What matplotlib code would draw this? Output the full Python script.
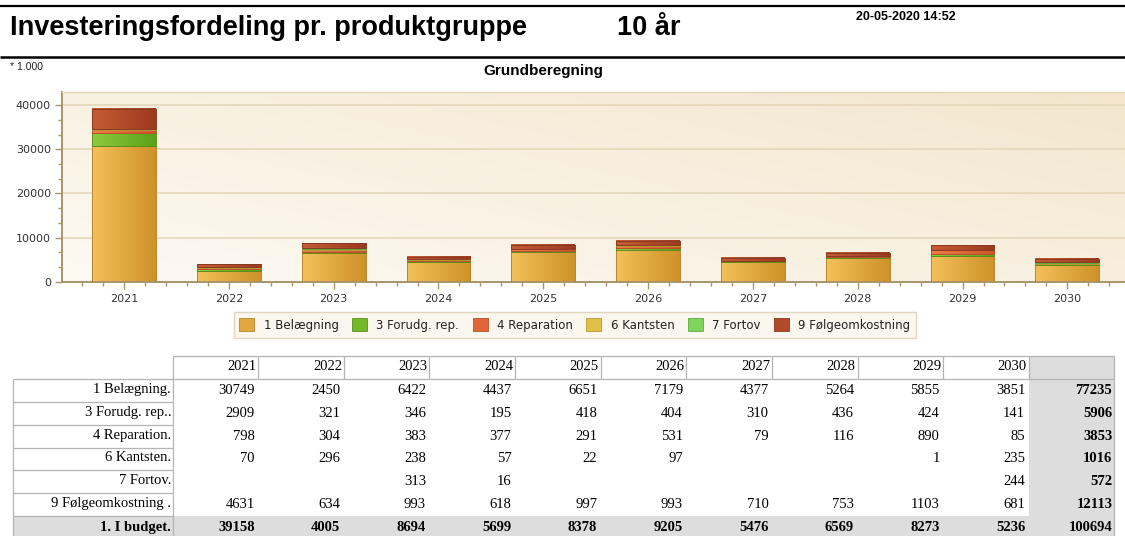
import numpy as np
import matplotlib
matplotlib.use('Agg')
import matplotlib.pyplot as plt
from matplotlib import font_manager
from matplotlib.colors import LinearSegmentedColormap
from matplotlib.patches import Patch, Rectangle
from matplotlib.ticker import MultipleLocator

# ---------------- data ----------------
years = [2021, 2022, 2023, 2024, 2025, 2026, 2027, 2028, 2029, 2030]
series_names = ["1 Belægning", "3 Forudg. rep.", "4 Reparation", "6 Kantsten", "7 Fortov", "9 Følgeomkostning"]
row_labels = ["1 Belægning.", "3 Forudg. rep..", "4 Reparation.", "6 Kantsten.", "7 Fortov.", "9 Følgeomkostning ."]
belaegning = [30749, 2450, 6422, 4437, 6651, 7179, 4377, 5264, 5855, 3851]
forudg_rep = [2909, 321, 346, 195, 418, 404, 310, 436, 424, 141]
reparation = [798, 304, 383, 377, 291, 531, 79, 116, 890, 85]
kantsten = [70, 296, 238, 57, 22, 97, None, None, 1, 235]
fortov = [None, None, 313, 16, None, None, None, None, None, 244]
foelgeomk = [4631, 634, 993, 618, 997, 993, 710, 753, 1103, 681]
row_totals = [77235, 5906, 3853, 1016, 572, 12113]
total_label = "1. I budget."
budget_totals = [39158, 4005, 8694, 5699, 8378, 9205, 5476, 6569, 8273, 5236]
grand_total = 100694
y_ticks = [0, 10000, 20000, 30000, 40000]

title = "Investeringsfordeling pr. produktgruppe"
period = "10 år"
timestamp = "20-05-2020 14:52"
unit_note = "* 1.000"
chart_title = "Grundberegning"

series = [belaegning, forudg_rep, reparation, kantsten, fortov, foelgeomk]
# (light, dark, edge)
series_colors = [("#F3C05A", "#CE9228", "#B8862E"),
                 ("#8DCB3E", "#5AA118", "#5C8E1E"),
                 ("#EF7C48", "#D2532A", "#B8502C"),
                 ("#F1D264", "#D3AD30", "#B89A30"),
                 ("#94E273", "#68C845", "#5EAA40"),
                 ("#C65C36", "#9C3A1F", "#8A3A20")]
legend_colors = ["#E0A83E", "#74B82A", "#E06638", "#E2C048", "#7ED55C", "#B04A2A"]

W, H = 1125, 536
fig = plt.figure(figsize=(W / 100, H / 100), dpi=100)
fig.patch.set_facecolor("white")

names = {f.name for f in font_manager.fontManager.ttflist}
sans = "Liberation Sans" if "Liberation Sans" in names else "DejaVu Sans"
serif = "Liberation Serif" if "Liberation Serif" in names else "DejaVu Serif"

# ---------------- overlay for header and table (pixel coords) ----------------
ov = fig.add_axes([0, 0, 1, 1])
ov.set_xlim(0, W)
ov.set_ylim(H, 0)
ov.axis("off")
ov.patch.set_alpha(0)

ov.plot([0, W], [5.5, 5.5], color="black", lw=1.6, solid_capstyle="butt")
ov.plot([0, W], [57, 57], color="black", lw=1.8, solid_capstyle="butt")
ov.text(10, 35, title, fontsize=19.5, fontweight="bold", family=sans, va="baseline", ha="left")
ov.text(617, 35, period, fontsize=19.5, fontweight="bold", family=sans, va="baseline", ha="left")
ov.text(856, 20.5, timestamp, fontsize=9, fontweight="bold", family=sans, va="baseline", ha="left")
ov.text(10, 67, unit_note, fontsize=7.5, family=sans, va="center", ha="left", color="#222222")
ov.text(543, 71, chart_title, fontsize=11, fontweight="bold", family=sans, va="center", ha="center")

# table geometry
lab_l, lab_r = 12.7, 172.7
col_w = 85.6
head_top, head_bot = 356.0, 379.3
row_h = 22.75
ncols = len(years)
tot_l = lab_r + ncols * col_w
tot_r = tot_l + col_w
nrows = len(row_labels) + 1
tab_bot = head_bot + nrows * row_h
grey = "#DDDDDD"
line_c = "#B4B4B4"

ov.add_patch(Rectangle((tot_l, head_top), col_w, tab_bot - head_top, facecolor=grey, edgecolor="none", zorder=1))
last_top = head_bot + (nrows - 1) * row_h
ov.add_patch(Rectangle((lab_l, last_top), tot_r - lab_l, tab_bot - last_top, facecolor=grey, edgecolor="none", zorder=1))

lk = dict(color=line_c, lw=0.9, zorder=2, solid_capstyle="butt")
ov.plot([lab_r, tot_r], [head_top, head_top], **lk)
ov.plot([lab_l, tot_r], [head_bot, head_bot], **lk)
ov.plot([lab_r, lab_r], [head_top, tab_bot], **lk)
ov.plot([lab_l, lab_l], [head_bot, tab_bot], **lk)
ov.plot([tot_r, tot_r], [head_top, tab_bot], **lk)
for j in range(ncols):
    xr = lab_r + (j + 1) * col_w
    ov.plot([xr, xr], [head_top, head_bot], **lk)
for i in range(1, nrows):
    yy = head_bot + i * row_h
    ov.plot([lab_l, lab_r], [yy, yy], **lk)

fs_t = 10.5
for j, yr in enumerate(years):
    xr = lab_r + (j + 1) * col_w - 2
    ov.text(xr, (head_top + head_bot) / 2 - 1, str(yr), ha="right", va="center", fontsize=fs_t, family=serif, zorder=3)

for i, (lab, vals) in enumerate(zip(row_labels, series)):
    yc = head_bot + (i + 0.5) * row_h
    ov.text(lab_r - 1.5, yc - 1, lab, ha="right", va="center", fontsize=fs_t, family=serif, zorder=3)
    for j, v in enumerate(vals):
        if v is not None:
            xr = lab_r + (j + 1) * col_w - 3.5
            ov.text(xr, yc, str(v), ha="right", va="center", fontsize=fs_t, family=serif, zorder=3)
    ov.text(tot_r - 2, yc, str(row_totals[i]), ha="right", va="center", fontsize=fs_t, family=serif,
            fontweight="bold", zorder=3)

yc = head_bot + (nrows - 0.5) * row_h
ov.text(lab_r - 1.5, yc, total_label, ha="right", va="center", fontsize=fs_t, family=serif, fontweight="bold", zorder=3)
for j, v in enumerate(budget_totals):
    xr = lab_r + (j + 1) * col_w - 3.5
    ov.text(xr, yc, str(v), ha="right", va="center", fontsize=fs_t, family=serif, fontweight="bold", zorder=3)
ov.text(tot_r - 2, yc, str(grand_total), ha="right", va="center", fontsize=fs_t, family=serif, fontweight="bold", zorder=3)

# ---------------- chart ----------------
ax_l, ax_r = 62, 1125
ax_top, ax_bot = 91.7, 281.7
ax = fig.add_axes([ax_l / W, (H - ax_bot) / H, (ax_r - ax_l) / W, (ax_bot - ax_top) / H])
x = np.arange(len(years))
xlim = (-0.592, 9.55)
ylim = (0, 43080)

# background gradient
gx, gy = np.meshgrid(np.linspace(0, 1, 200), np.linspace(0, 1, 100))
bg = 0.55 * gx + 0.45 * gy
bg_cmap = LinearSegmentedColormap.from_list("bg", ["#FDFAF4", "#F3E6CD"])
ax.imshow(bg, cmap=bg_cmap, extent=[xlim[0], xlim[1], ylim[0], ylim[1]], origin="lower",
          aspect="auto", zorder=0, interpolation="bilinear")

for yv in y_ticks[1:]:
    ax.axhline(yv, color="#E6D9BC", lw=1.3, zorder=1)

bottom = np.zeros(len(years))
grad = np.linspace(0, 1, 64).reshape(1, -1)
for vals, (light, dark, edge) in zip(series, series_colors):
    v = np.array([0 if a is None else a for a in vals], dtype=float)
    bars = ax.bar(x, v, width=0.608, bottom=bottom, facecolor="none", edgecolor=edge, lw=0.7, zorder=3)
    cm = LinearSegmentedColormap.from_list("g", [light, dark])
    for p in bars:
        if p.get_height() > 0:
            ax.imshow(grad, cmap=cm, extent=[p.get_x(), p.get_x() + p.get_width(),
                                             p.get_y(), p.get_y() + p.get_height()],
                      aspect="auto", zorder=2, interpolation="bilinear")
    bottom += v

ax.set_xlim(*xlim)
ax.set_ylim(*ylim)
ax.set_xticks(x)
ax.set_xticklabels([str(y) for y in years])
ax.xaxis.set_minor_locator(MultipleLocator(0.2))
ax.set_yticks(y_ticks)
ax.set_yticklabels([str(v) for v in y_ticks])
ax.yaxis.set_minor_locator(MultipleLocator(10000 / 3))

spine_c = "#A8956A"
for s in ["left", "bottom"]:
    ax.spines[s].set_color(spine_c)
    ax.spines[s].set_linewidth(1.4)
ax.spines["right"].set_visible(False)
ax.spines["top"].set_color("#E2D5B8")
ax.spines["top"].set_linewidth(1.0)
ax.tick_params(axis="both", which="major", length=5, width=1, color=spine_c, labelsize=8,
               labelcolor="#333333", pad=3)
ax.tick_params(axis="both", which="minor", length=3, width=1, color=spine_c)
ax.tick_params(axis="x", which="major", pad=4)

handles = [Patch(facecolor=mid, edgecolor=c[2], lw=0.6) for c, mid in zip(series_colors, legend_colors)]
leg = fig.legend(handles, series_names, loc="center", bbox_to_anchor=(575 / W, (H - 325) / H), ncol=6,
                 fontsize=8.5, frameon=True, fancybox=False, handlelength=1.25, handleheight=1.25,
                 columnspacing=1.15, handletextpad=0.8, borderpad=0.5, borderaxespad=0)
leg.get_frame().set_facecolor("#FBF6EA")
leg.get_frame().set_edgecolor("#DCCFB0")
leg.get_frame().set_linewidth(1.0)
for t in leg.get_texts():
    t.set_color("#222222")

fig.savefig("out.png", dpi=100)
